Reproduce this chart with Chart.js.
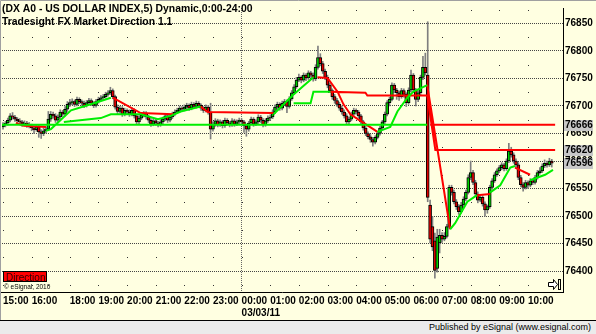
<!DOCTYPE html>
<html>
<head>
<meta charset="utf-8">
<script src="https://cdn.jsdelivr.net/npm/chart.js@4.4.0/dist/chart.umd.min.js"></script>
<style>
html, body { margin: 0; padding: 0; background: #ffffe1; }
#wrap { position: relative; width: 596px; height: 334px; overflow: hidden; }
canvas { display: block; }
#foot {
  position: absolute; left: 0; top: 320px; width: 596px; height: 14px;
  background: #ebebeb; border-top: 1px solid #000; box-sizing: border-box;
  font: 9px "Liberation Sans", Arial, sans-serif; color: #000;
  text-align: right; padding-right: 5px; line-height: 12px;
}
</style>
</head>
<body>
<div id="wrap">
  <canvas id="chart" width="596" height="320"></canvas>
  <div id="foot">Published by eSignal (www.esignal.com)</div>
</div>
<script>
// 5 minute bars, index 0 = 15:00
const hourIdx = [0, 12, 19, 28, 40, 52, 64, 76, 88, 100, 112, 124, 136, 148, 160, 172, 184, 196, 208, 220];
const hourLabels = ['15:00', '16:00', '', '18:00', '19:00', '20:00', '21:00', '22:00', '23:00', ['00:00', '03/03/11'],
  '01:00', '02:00', '03:00', '04:00', '05:00', '06:00', '07:00', '08:00', '09:00', '10:00'];
const yTicks = [76400, 76450, 76500, 76550, 76600, 76650, 76700, 76750, 76800, 76850];
const priceTags = [76666, 76620, 76596];

const opens = [
  76662, 76666, 76669, 76674, 76682, 76680, 76676, 76673, 76671, 76667, 76669, 76666,
  76664, 76660, 76657, 76662, 76653, 76650, 76655,
  76658, 76676, 76685, 76682, 76674, 76680, 76689, 76685, 76694,
  76703, 76706, 76708, 76703, 76712, 76708, 76705, 76701, 76706, 76710, 76705, 76701,
  76708, 76712, 76715, 76717, 76721, 76724, 76728, 76717, 76698, 76690, 76696, 76685,
  76692, 76689, 76685, 76692, 76682, 76671, 76678, 76683, 76687, 76680, 76674, 76667,
  76673, 76669, 76666, 76671, 76676, 76682, 76674, 76680, 76685, 76689, 76692, 76696,
  76694, 76698, 76701, 76696, 76703, 76699, 76705, 76701, 76696, 76692, 76698, 76689,
  76658, 76667, 76673, 76666, 76671, 76664, 76674, 76669, 76666, 76673, 76667, 76671,
  76674, 76671, 76664, 76658, 76669, 76676, 76667, 76671, 76680, 76674, 76666, 76673,
  76678, 76680, 76689, 76698, 76703, 76696, 76705, 76708, 76699, 76713, 76724, 76735,
  76747, 76752, 76747, 76756, 76751, 76760, 76756, 76749, 76770, 76788, 76777, 76763,
  76752, 76738, 76728, 76717, 76710, 76703, 76696, 76689, 76682, 76671, 76676, 76685,
  76692, 76689, 76682, 76671, 76660, 76650, 76644, 76639, 76634, 76643, 76650, 76660,
  76671, 76685, 76706, 76712, 76738, 76729, 76724, 76717, 76728, 76721, 76706, 76729,
  76756, 76729, 76712, 76724, 76752, 76770, 76756, 76520, 76481, 76455, 76405, 76451,
  76465, 76458, 76463, 76481, 76552, 76543, 76526, 76517, 76508, 76520, 76531, 76543,
  76570, 76579, 76561, 76540, 76529, 76534, 76522, 76511, 76517, 76552, 76564, 76575,
  76582, 76588, 76593, 76586, 76600, 76618, 76611, 76600, 76593, 76570, 76557, 76552,
  76561, 76556, 76564, 76561, 76570, 76579, 76582, 76591, 76596, 76593, 76600
];
const highs = [
  76670, 76672, 76678, 76686, 76688, 76683, 76679, 76677, 76674, 76673, 76672, 76670,
  76667, 76663, 76666, 76665, 76657, 76660, 76662,
  76690, 76690, 76689, 76686, 76684, 76693, 76692, 76699, 76708,
  76712, 76713, 76711, 76716, 76715, 76711, 76709, 76710, 76714, 76713, 76708, 76712,
  76716, 76719, 76721, 76725, 76728, 76734, 76731, 76720, 76702, 76700, 76699, 76696,
  76695, 76693, 76697, 76695, 76685, 76682, 76687, 76690, 76690, 76683, 76677, 76677,
  76676, 76672, 76675, 76680, 76686, 76685, 76684, 76689, 76693, 76696, 76700, 76699,
  76702, 76705, 76704, 76707, 76706, 76709, 76708, 76704, 76699, 76702, 76701, 76705,
  76671, 76677, 76676, 76675, 76674, 76678, 76677, 76672, 76677, 76676, 76675, 76678,
  76677, 76674, 76667, 76672, 76680, 76679, 76675, 76684, 76683, 76677, 76677, 76682,
  76684, 76693, 76702, 76707, 76706, 76709, 76712, 76711, 76717, 76728, 76739, 76752,
  76758, 76755, 76760, 76759, 76764, 76763, 76760, 76775, 76809, 76795, 76781, 76767,
  76756, 76742, 76731, 76721, 76714, 76707, 76700, 76693, 76686, 76680, 76689, 76696,
  76695, 76692, 76685, 76674, 76663, 76653, 76648, 76643, 76646, 76654, 76663, 76674,
  76689, 76710, 76716, 76742, 76741, 76732, 76727, 76732, 76731, 76724, 76733, 76765,
  76759, 76732, 76728, 76756, 76790, 76796, 76853, 76529, 76499, 76469, 76476, 76476,
  76470, 76470, 76485, 76556, 76556, 76547, 76530, 76521, 76525, 76535, 76547, 76575,
  76600, 76583, 76565, 76544, 76538, 76537, 76526, 76520, 76556, 76568, 76579, 76586,
  76592, 76597, 76596, 76604, 76632, 76625, 76615, 76604, 76597, 76574, 76561, 76565,
  76564, 76568, 76567, 76574, 76583, 76588, 76595, 76602, 76600, 76605, 76603
];
const lows = [
  76658, 76662, 76665, 76671, 76676, 76672, 76668, 76667, 76663, 76664, 76661, 76660,
  76655, 76650, 76654, 76643, 76641, 76646, 76651,
  76655, 76672, 76678, 76670, 76671, 76677, 76681, 76682, 76690,
  76699, 76702, 76699, 76700, 76704, 76701, 76697, 76698, 76703, 76701, 76697, 76698,
  76705, 76709, 76711, 76714, 76718, 76721, 76713, 76694, 76686, 76687, 76681, 76682,
  76685, 76681, 76682, 76678, 76666, 76668, 76675, 76680, 76676, 76670, 76663, 76664,
  76665, 76662, 76663, 76668, 76673, 76670, 76671, 76677, 76682, 76686, 76689, 76690,
  76691, 76695, 76692, 76693, 76695, 76696, 76697, 76692, 76688, 76689, 76685, 76640,
  76654, 76663, 76662, 76663, 76660, 76661, 76665, 76662, 76663, 76663, 76664, 76668,
  76667, 76652, 76645, 76654, 76666, 76663, 76664, 76668, 76670, 76662, 76663, 76670,
  76674, 76677, 76686, 76695, 76692, 76693, 76702, 76688, 76696, 76710, 76721, 76732,
  76744, 76742, 76744, 76746, 76748, 76752, 76745, 76746, 76767, 76773, 76759, 76748,
  76733, 76724, 76712, 76705, 76699, 76692, 76685, 76678, 76667, 76668, 76673, 76681,
  76685, 76678, 76667, 76656, 76646, 76640, 76634, 76627, 76631, 76640, 76647, 76657,
  76668, 76682, 76700, 76709, 76724, 76712, 76710, 76714, 76716, 76699, 76703, 76726,
  76724, 76700, 76708, 76720, 76748, 76756, 76526, 76451, 76437, 76387, 76398, 76433,
  76452, 76455, 76460, 76478, 76538, 76522, 76512, 76503, 76505, 76517, 76528, 76540,
  76566, 76557, 76536, 76524, 76526, 76518, 76500, 76505, 76514, 76549, 76561, 76572,
  76579, 76584, 76582, 76583, 76597, 76607, 76596, 76589, 76566, 76553, 76545, 76549,
  76550, 76553, 76557, 76558, 76567, 76576, 76579, 76588, 76589, 76590, 76589
];
const closes = [
  76666, 76669, 76674, 76682, 76680, 76676, 76673, 76671, 76667, 76669, 76666, 76664,
  76660, 76657, 76662, 76653, 76650, 76655, 76658,
  76676, 76685, 76682, 76674, 76680, 76689, 76685, 76694, 76703,
  76706, 76708, 76703, 76712, 76708, 76705, 76701, 76706, 76710, 76705, 76701, 76708,
  76712, 76715, 76717, 76721, 76724, 76728, 76717, 76698, 76690, 76696, 76685, 76692,
  76689, 76685, 76692, 76682, 76671, 76678, 76683, 76687, 76680, 76674, 76667, 76673,
  76669, 76666, 76671, 76676, 76682, 76674, 76680, 76685, 76689, 76692, 76696, 76694,
  76698, 76701, 76696, 76703, 76699, 76705, 76701, 76696, 76692, 76698, 76689, 76658,
  76667, 76673, 76666, 76671, 76664, 76674, 76669, 76666, 76673, 76667, 76671, 76674,
  76671, 76664, 76658, 76669, 76676, 76667, 76671, 76680, 76674, 76666, 76673, 76678,
  76680, 76689, 76698, 76703, 76696, 76705, 76708, 76699, 76713, 76724, 76735, 76747,
  76752, 76747, 76756, 76751, 76760, 76756, 76749, 76770, 76788, 76777, 76763, 76752,
  76738, 76728, 76717, 76710, 76703, 76696, 76689, 76682, 76671, 76676, 76685, 76692,
  76689, 76682, 76671, 76660, 76650, 76644, 76639, 76634, 76643, 76650, 76660, 76671,
  76685, 76706, 76712, 76738, 76729, 76724, 76717, 76728, 76721, 76706, 76729, 76756,
  76729, 76712, 76724, 76752, 76770, 76760, 76534, 76458, 76444, 76401, 76462, 76465,
  76458, 76463, 76481, 76552, 76543, 76526, 76517, 76508, 76520, 76531, 76543, 76570,
  76579, 76561, 76540, 76529, 76534, 76522, 76511, 76517, 76552, 76564, 76575, 76582,
  76588, 76593, 76586, 76600, 76618, 76611, 76600, 76593, 76570, 76557, 76552, 76561,
  76556, 76564, 76561, 76570, 76579, 76582, 76591, 76596, 76593, 76600, 76596
];

// Market Direction lines, vertices in bar index / price, null = break
const greenLineX = [
  -0.42, 177.8, 177.8,
  18.0, 20.1, 28.5, 36.8, 45.2, 45.2,
  25.5, 41.0, 45.2, 57.7, 64.9, 70.3, 74.5, 82.8, 82.8,
  113.4, 121.8, 130.1, 130.1,
  121.8, 128.9, 130.1, 137.2, 137.2,
  156.9, 162.3, 165.3, 169.5, 172.0, 177.8, 177.8,
  187.4, 189.5, 194.6, 198.7, 198.7,
  204.2, 208.4, 212.6, 214.6, 214.6,
  220.9, 227.2, 230.5
];
const greenLineY = [
  76666, 76666, null,
  76655, 76658, 76692, 76703, 76715, null,
  76671, 76678, 76685, 76685, 76676, 76682, 76690, 76699, null,
  76685, 76721, 76752, null,
  76705, 76705, 76726, 76726, null,
  76653, 76662, 76690, 76715, 76726, 76738, null,
  76476, 76487, 76526, 76538, null,
  76543, 76556, 76588, 76591, null,
  76565, 76575, 76584
];
const redLineX = [
  5.4, 8.8, 18.0, 18.0,
  46.0, 57.7, 71.5, 71.5,
  82.8, 85.8, 113.4, 113.4,
  131.8, 136.0, 140.2, 142.7, 145.6, 149.8, 155.2, 156.9, 156.9,
  137.2, 151.9, 152.7, 177.8, 181.2, 231.4, 231.4,
  177.8, 187.4, 187.4,
  179.0, 231.4, 231.4,
  198.7, 204.2, 204.2,
  214.6, 220.9
];
const redLineY = [
  76669, 76664, 76662, null,
  76715, 76687, 76685, null,
  76699, 76689, 76687, null,
  76752, 76751, 76726, 76703, 76685, 76673, 76658, 76653, null,
  76726, 76724, 76719, 76719, 76620, 76620, null,
  76738, 76476, null,
  76666, 76666, null,
  76538, 76540, null,
  76588, 76575
];

const FONT = '"Liberation Sans", Arial, sans-serif';
const bars = closes.map((c, i) => i);
const pts = (xs, ys) => xs.map((x, k) => ({ x: x, y: ys[k] }));
const isUp = i => closes[i] >= opens[i];

const decor = {
  id: 'decor',
  beforeDraw(chart) {
    const c = chart.ctx;
    c.save();
    c.fillStyle = '#ffffe1';
    c.fillRect(0, 0, chart.width, chart.height);
    c.restore();
  },
  beforeDatasetsDraw(chart) {
    // grid dots at the half levels on every hour
    const c = chart.ctx, xs = chart.scales.x, ys = chart.scales.y;
    c.save();
    c.fillStyle = '#333';
    hourIdx.forEach(h => {
      const px = Math.round(xs.getPixelForValue(h));
      for (let v = 76375; v <= 76875; v += 50) {
        c.fillRect(px, Math.round(ys.getPixelForValue(v)), 1, 1);
      }
    });
    c.restore();
  },
  afterDraw(chart) {
    const c = chart.ctx, ys = chart.scales.y, a = chart.chartArea;
    c.save();
    // frame
    c.strokeStyle = '#a0a0a0';
    c.lineWidth = 1;
    c.beginPath();
    c.moveTo(0.5, 320); c.lineTo(0.5, 0.5); c.lineTo(596, 0.5);
    c.stroke();

    // titles
    c.fillStyle = '#000';
    c.textBaseline = 'alphabetic';
    c.textAlign = 'left';
    c.font = 'bold 10.4px ' + FONT;
    c.fillText('(DX A0 - US DOLLAR INDEX,5) Dynamic,0:00-24:00', 2, 12);
    c.fillText('Tradesight FX Market Direction 1.1', 2, 24.5);

    // direction box
    c.fillStyle = '#ff0000';
    c.fillRect(3, 271, 44, 11);
    c.strokeStyle = '#000';
    c.strokeRect(3.5, 271.5, 43, 10);
    c.fillStyle = '#300000';
    c.font = '10px ' + FONT;
    c.fillText('Direction', 6, 280.5);
    c.font = '6.5px ' + FONT;
    c.fillStyle = '#000';
    c.fillText('\u00a9 eSignal, 2010', 4, 289);

    // price tags on the right axis
    c.font = 'bold 10px ' + FONT;
    c.textBaseline = 'middle';
    priceTags.forEach(v => {
      const py = Math.round(ys.getPixelForValue(v));
      c.fillStyle = '#c8c8c8';
      c.fillRect(a.right + 1, py - 5, 29, 11);
      c.fillStyle = '#000';
      c.fillText(String(v), a.right + 2, py + 0.5);
    });

    // scroll icon
    c.strokeStyle = '#000';
    c.fillStyle = '#fff';
    c.beginPath();
    c.moveTo(548.5, 282.5); c.lineTo(553.5, 282.5); c.lineTo(553.5, 279.5);
    c.lineTo(557.5, 284.5); c.lineTo(553.5, 289.5); c.lineTo(553.5, 286.5);
    c.lineTo(548.5, 286.5); c.closePath();
    c.fill(); c.stroke();
    c.strokeRect(558.5, 279.5, 2, 10);
    c.restore();
  }
};

new Chart(document.getElementById('chart'), {
  type: 'bar',
  data: {
    datasets: [
      {
        type: 'line',
        data: pts(greenLineX, greenLineY),
        borderColor: '#00ee00',
        borderWidth: 2,
        pointRadius: 0,
        tension: 0,
        spanGaps: false,
        order: 0
      },
      {
        type: 'line',
        data: pts(redLineX, redLineY),
        borderColor: '#ff0000',
        borderWidth: 2,
        pointRadius: 0,
        tension: 0,
        spanGaps: false,
        order: 0
      },
      {
        data: bars.map(i => ({ x: i, y: [opens[i], closes[i]] })),
        backgroundColor: ctx => isUp(ctx.dataIndex) ? '#00d000' : '#e00000',
        borderColor: '#000',
        borderWidth: 1,
        borderSkipped: false,
        barThickness: 3,
        minBarLength: 1,
        grouped: false,
        order: 1
      },
      {
        data: bars.map(i => ({ x: i, y: [lows[i], highs[i]] })),
        backgroundColor: '#7f7f7f',
        borderWidth: 0,
        barThickness: 1,
        grouped: false,
        order: 2
      }
    ]
  },
  options: {
    responsive: false,
    devicePixelRatio: 1,
    animation: false,
    events: [],
    layout: { padding: { left: 1, top: 1, right: 0, bottom: 0 } },
    plugins: {
      legend: { display: false },
      tooltip: { enabled: false }
    },
    scales: {
      x: {
        type: 'linear',
        min: -0.42,
        max: 234.7,
        offset: false,
        afterFit: s => { s.height = 28; },
        afterBuildTicks: s => { s.ticks = hourIdx.map(v => ({ value: v })); },
        ticks: {
          autoSkip: false,
          maxRotation: 0,
          align: 'start',
          padding: 3,
          color: '#000',
          font: { family: FONT, size: 10, weight: 'bold', lineHeight: 1.2 },
          callback: (v, k) => hourLabels[k]
        },
        grid: {
          offset: false,
          drawTicks: false,
          color: ctx => (ctx.tick && ctx.tick.value === 100) ? '#666' : 'rgba(0,0,0,0)'
        },
        border: { display: true, color: '#000', width: 1, dash: [1, 1] }
      },
      y: {
        type: 'linear',
        position: 'right',
        min: 76362,
        max: 76878,
        afterFit: s => { s.width = 33; },
        afterBuildTicks: s => { s.ticks = yTicks.map(v => ({ value: v })); },
        ticks: {
          padding: 2,
          color: '#000',
          font: { family: FONT, size: 10, weight: 'bold' },
          callback: v => String(v)
        },
        grid: { drawTicks: false, color: '#444' },
        border: { display: true, color: '#000', width: 1, dash: [1, 1] }
      }
    }
  },
  plugins: [decor]
});
</script>
</body>
</html>
